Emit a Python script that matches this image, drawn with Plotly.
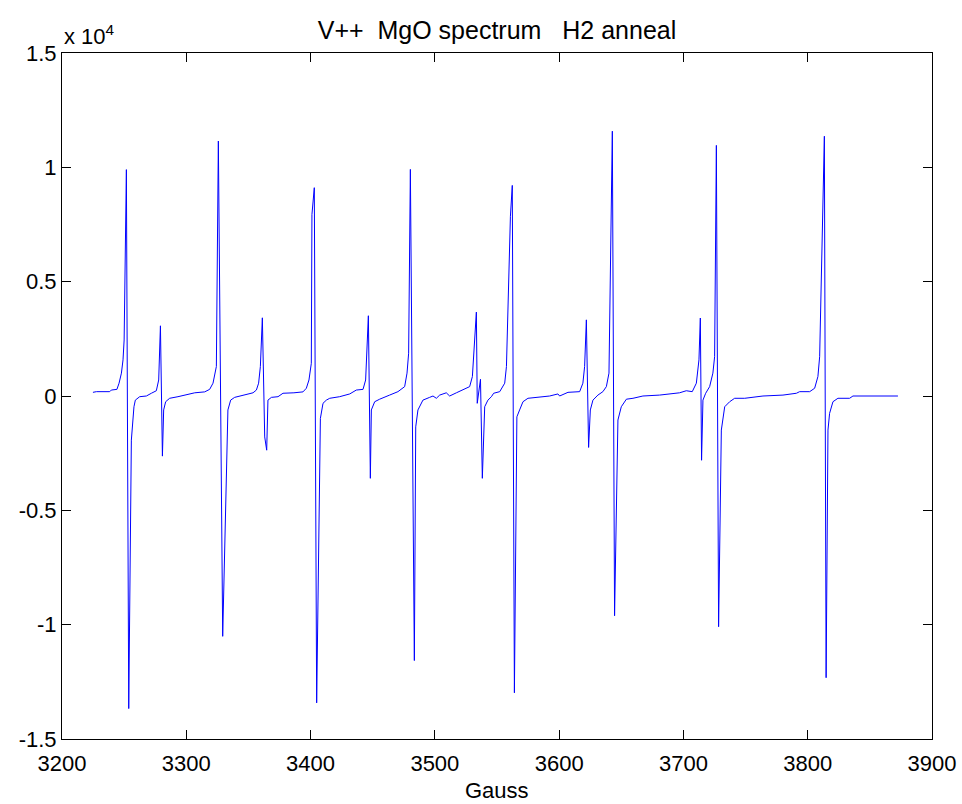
import plotly.graph_objects as go

# Magnetic field (Gauss)
gauss = [
    3224.9, 3227.7, 3238.4, 3239.7, 3244.2, 3245.9, 3247.8, 3249.1, 3250.0, 3250.7,
    3251.8, 3253.7, 3255.8, 3257.9, 3259.0, 3262.5, 3267.9, 3271.9, 3275.9, 3277.8,
    3279.2, 3280.8, 3281.8, 3283.4, 3286.6, 3293.3, 3298.7, 3306.8, 3314.8, 3318.8,
    3321.5, 3324.2, 3325.8, 3329.3, 3333.5, 3335.7, 3338.9, 3347.0, 3353.7, 3356.4,
    3358.2, 3359.6, 3361.2, 3363.1, 3364.7, 3365.7, 3368.5, 3373.8, 3377.8, 3386.6,
    3393.9, 3396.6, 3398.7, 3400.6, 3401.1, 3403.0, 3404.9, 3407.9, 3410.0, 3412.7,
    3415.4, 3423.4, 3431.5, 3436.8, 3442.2, 3444.3, 3446.5, 3448.1, 3448.9, 3451.6,
    3455.6, 3463.6, 3470.3, 3475.7, 3477.6, 3478.9, 3480.3, 3483.5, 3484.6, 3486.4,
    3490.4, 3495.8, 3498.5, 3501.2, 3503.9, 3509.2, 3511.9, 3517.3, 3522.6, 3528.0,
    3530.2, 3533.4, 3534.1, 3536.7, 3538.2, 3540.1, 3542.7, 3545.5, 3547.3, 3552.2,
    3556.2, 3557.6, 3560.8, 3562.3, 3564.0, 3566.0, 3568.2, 3570.9, 3574.9, 3581.7,
    3592.4, 3599.0, 3600.4, 3607.1, 3616.5, 3619.1, 3620.5, 3621.9, 3623.7, 3625.1,
    3627.2, 3631.2, 3635.2, 3638.0, 3640.1, 3642.8, 3644.6, 3647.3, 3650.0, 3654.1,
    3659.4, 3667.4, 3680.8, 3696.9, 3702.3, 3707.1, 3710.4, 3712.5, 3713.6, 3714.6,
    3715.7, 3717.9, 3721.1, 3723.7, 3725.1, 3726.5, 3728.3, 3730.5, 3733.2, 3737.2,
    3741.2, 3749.3, 3764.0, 3780.1, 3790.9, 3793.5, 3801.6, 3805.6, 3808.2, 3809.6,
    3813.4, 3814.8, 3816.3, 3817.6, 3820.3, 3824.3, 3833.7, 3836.4, 3872.6,
]

# EPR derivative intensity (arbitrary units)
intensity = [
    160, 190, 190, 260, 290, 560, 1000, 1580, 2450, 4650,
    9900, -13670, -1930, -470, -180, -30, 0, 120, 230, 700,
    3070, -2630, -610, -250, -100, -30, 40, 140, 180, 290,
    560, 1290, 11150, -10510, -610, -180, -60, 40, 140, 260,
    560, 1290, 3420, -1790, -2370, -180, -60, -30, 120, 140,
    180, 340, 700, 1430, 7940, 9110, -13420, -980, -320, -180,
    -100, -30, 90, 260, 290, 700, 3510, -3600, -610, -250,
    -140, 40, 190, 410, 1000, 1870, 9910, -11570, -1350, -610,
    -180, -60, 0, -100, 40, 140, 0, 140, 260, 410,
    850, 3670, -320, 730, -3600, -470, -180, -30, 120, 190,
    560, 1290, 7860, 9210, -12980, -910, -610, -250, -100, -60,
    0, 90, 0, 160, 190, 560, 1290, 3330, -2250, -610,
    -180, 40, 190, 410, 1000, 11580, -9610, -1050, -470, -140,
    -100, 0, 40, 140, 230, 190, 560, 1580, 3410, -2810,
    -180, 120, 410, 1000, 1720, 10960, -10090, -1490, -470, -250,
    -100, -100, 0, 40, 120, 190, 190, 340, 850, 1720,
    11360, -12320, -1490, -760, -250, -100, -100, 0, 0,
]

x_ticks = [3200, 3300, 3400, 3500, 3600, 3700, 3800, 3900]
y_ticks = [-15000, -10000, -5000, 0, 5000, 10000, 15000]
y_tick_text = ["-1.5", "-1", "-0.5", "0", "0.5", "1", "1.5"]

FONT = "Liberation Sans, Arial, Helvetica, sans-serif"

fig = go.Figure()
fig.add_trace(go.Scatter(
    x=gauss, y=intensity, mode="lines",
    line=dict(color="#0000ff", width=1),
    showlegend=False, hoverinfo="skip",
))

axis_common = dict(
    showline=True, linecolor="black", linewidth=1, mirror="ticks",
    ticks="inside", ticklen=9, tickwidth=1, tickcolor="black",
    showgrid=False, zeroline=False, automargin=False,
    tickfont=dict(family=FONT, size=22, color="black"),
)

fig.update_layout(
    width=962, height=804,
    margin=dict(l=62, r=30, t=53, b=65),
    paper_bgcolor="white", plot_bgcolor="white",
    font=dict(family=FONT, size=22, color="black"),
    title=dict(
        text="V++&nbsp;&nbsp;MgO spectrum&nbsp;&nbsp;&nbsp;H2 anneal",
        x=0.5, xref="paper", xanchor="center",
        y=1 - 30 / 804, yref="container", yanchor="middle",
        font=dict(family=FONT, size=25, color="black"),
    ),
    xaxis=dict(
        range=[3200, 3900], tickvals=x_ticks, ticklabelstandoff=5,
        **axis_common,
    ),
    yaxis=dict(
        range=[-15000, 15000], tickvals=y_ticks, ticktext=y_tick_text,
        **axis_common,
    ),
    annotations=[
        dict(
            text="x 10<sup>4</sup>", xref="paper", yref="paper",
            x=0, y=1, xanchor="left", yanchor="bottom", yshift=2,
            showarrow=False, font=dict(family=FONT, size=22, color="black"),
        ),
        dict(
            text="Gauss", xref="paper", yref="paper",
            x=0.5, y=0, xanchor="center", yanchor="middle", yshift=-51,
            showarrow=False, font=dict(family=FONT, size=22, color="black"),
        ),
    ],
)

fig.write_html("out.html")
